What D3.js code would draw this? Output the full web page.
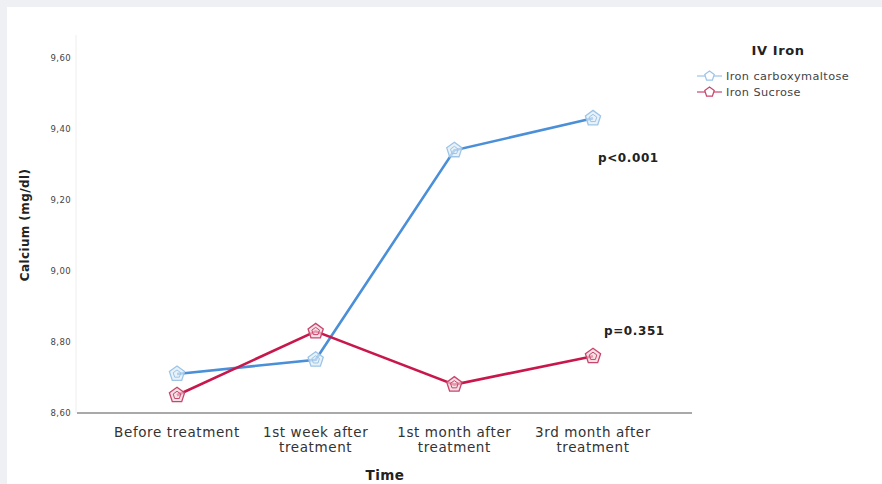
<!DOCTYPE html>
<html>
<head>
<meta charset="utf-8">
<script src="https://cdn.jsdelivr.net/npm/d3@7"></script>
<style>
  body { margin: 0; background: #eef0f3; }
  svg { display: block; font-family: "DejaVu Sans", Verdana, sans-serif; }
</style>
</head>
<body>
<div id="chart"></div>
<script>
// Data
const categories = [
  ["Before treatment"],
  ["1st week after", "treatment"],
  ["1st month after", "treatment"],
  ["3rd month after", "treatment"]
];
const carboxymaltose = [8.71, 8.75, 9.34, 9.43];
const sucrose = [8.65, 8.83, 8.68, 8.76];
const yTicks = [8.6, 8.8, 9.0, 9.2, 9.4, 9.6];
const seriesNames = ["Iron carboxymaltose", "Iron Sucrose"];
const pLabels = ["p<0.001", "p=0.351"];

const width = 882, height = 484;
const svg = d3.select("#chart").append("svg")
  .attr("width", width)
  .attr("height", height);

// white panel
svg.append("rect")
  .attr("x", 7).attr("y", 7)
  .attr("width", width - 7).attr("height", height - 7)
  .attr("fill", "#fff");

// clipped title remnant (the reference only shows its bottom edge)
svg.append("text")
  .attr("x", 461).attr("y", 2)
  .attr("text-anchor", "middle")
  .attr("font-size", 16).attr("font-weight", "bold")
  .attr("fill", "#444")
  .text("g");

// gray frame over the top and left edges
svg.append("rect").attr("x", 0).attr("y", 0).attr("width", width).attr("height", 7).attr("fill", "#eef0f3");
svg.append("rect").attr("x", 0).attr("y", 0).attr("width", 7).attr("height", height).attr("fill", "#eef0f3");

const plotLeft = 77, plotRight = 692;
const xScale = d3.scalePoint()
  .domain(categories.map(c => c.join(" ")))
  .range([177, 593]);
const yScale = d3.scaleLinear().domain([8.6, 9.6]).range([413, 58]);

// y axis line (faint)
svg.append("line")
  .attr("x1", 76).attr("x2", 76)
  .attr("y1", 35).attr("y2", 413)
  .attr("stroke", "#eeeeee").attr("stroke-width", 1);

// y tick labels
const yAxis = d3.axisLeft(yScale)
  .tickValues(yTicks)
  .tickSize(0)
  .tickPadding(5)
  .tickFormat(d => d3.format(".2f")(d).replace(".", ","));
const yG = svg.append("g")
  .attr("transform", `translate(${plotLeft - 1}, 0)`)
  .call(yAxis);
yG.select(".domain").remove();
yG.selectAll("text")
  .attr("font-size", 8.5)
  .attr("font-family", "'DejaVu Sans', Verdana, sans-serif")
  .attr("letter-spacing", 0.4)
  .attr("fill", "#444");

// x axis line
svg.append("line")
  .attr("x1", plotLeft).attr("x2", plotRight)
  .attr("y1", 413).attr("y2", 413)
  .attr("stroke", "#555").attr("stroke-width", 1.2);

// x category labels
categories.forEach(c => {
  const t = svg.append("text")
    .attr("x", xScale(c.join(" ")))
    .attr("y", 437)
    .attr("text-anchor", "middle")
    .attr("font-size", 13.5)
    .attr("letter-spacing", 0.6)
    .attr("fill", "#333");
  c.forEach((line, i) => {
    t.append("tspan")
      .attr("x", xScale(c.join(" ")))
      .attr("dy", i === 0 ? 0 : 15)
      .text(line);
  });
});

// axis titles
svg.append("text")
  .attr("x", 385).attr("y", 480)
  .attr("text-anchor", "middle")
  .attr("font-size", 13.5).attr("font-weight", "bold")
  .attr("letter-spacing", 0.5)
  .attr("fill", "#222")
  .text("Time");

svg.append("text")
  .attr("transform", "translate(29, 225) rotate(-90)")
  .attr("text-anchor", "middle")
  .attr("font-size", 12).attr("font-weight", "bold")
  .attr("letter-spacing", 0.4)
  .attr("fill", "#222")
  .text("Calcium (mg/dl)");

// series
const series = [
  { name: seriesNames[0], values: carboxymaltose, line: "#4a8fd8", marker: "#9cc5e8", fill: "#dfecf7" },
  { name: seriesNames[1], values: sucrose, line: "#c8174b", marker: "#c9456d", fill: "#f1d3dc" }
];

const line = d3.line()
  .x((d, i) => xScale(categories[i].join(" ")))
  .y(d => yScale(d));

// pentagon symbol path centred on 0,0
function pentagon(r) {
  const pts = d3.range(5).map(k => {
    const a = -Math.PI / 2 + k * 2 * Math.PI / 5;
    return [r * Math.cos(a), r * Math.sin(a)];
  });
  return "M" + pts.map(p => p.join(",")).join("L") + "Z";
}

series.forEach(s => {
  svg.append("path")
    .datum(s.values)
    .attr("fill", "none")
    .attr("stroke", s.line)
    .attr("stroke-width", 2.6)
    .attr("d", line);
});

series.forEach(s => {
  svg.selectAll(null)
    .data(s.values)
    .enter()
    .append("path")
    .attr("transform", (d, i) => `translate(${xScale(categories[i].join(" "))}, ${yScale(d)})`)
    .attr("d", pentagon(8))
    .attr("fill", s.fill)
    .attr("fill-opacity", 0.7)
    .attr("stroke", s.marker)
    .attr("stroke-width", 1.3);
  svg.selectAll(null)
    .data(s.values)
    .enter()
    .append("path")
    .attr("transform", (d, i) => `translate(${xScale(categories[i].join(" "))}, ${yScale(d)})`)
    .attr("d", pentagon(4))
    .attr("fill", "none")
    .attr("stroke", s.marker)
    .attr("stroke-width", 1);
});

// p-value labels
svg.append("text")
  .attr("x", 598).attr("y", 162)
  .attr("font-size", 12).attr("font-weight", "bold")
  .attr("letter-spacing", 0.6)
  .attr("fill", "#222")
  .text(pLabels[0]);
svg.append("text")
  .attr("x", 604).attr("y", 335)
  .attr("font-size", 12).attr("font-weight", "bold")
  .attr("letter-spacing", 0.6)
  .attr("fill", "#222")
  .text(pLabels[1]);

// legend
svg.append("text")
  .attr("x", 778).attr("y", 55)
  .attr("text-anchor", "middle")
  .attr("font-size", 13).attr("font-weight", "bold")
  .attr("letter-spacing", 0.6)
  .attr("fill", "#222")
  .text("IV Iron");

series.forEach((s, i) => {
  const y = 76 + i * 16;
  svg.append("line")
    .attr("x1", 697).attr("x2", 722)
    .attr("y1", y).attr("y2", y)
    .attr("stroke", s.marker).attr("stroke-width", 1.2);
  svg.append("path")
    .attr("transform", `translate(709.5, ${y})`)
    .attr("d", pentagon(5))
    .attr("fill", "#fff")
    .attr("stroke", s.marker)
    .attr("stroke-width", 1.2);
  svg.append("text")
    .attr("x", 726).attr("y", y + 4)
    .attr("font-size", 11.3)
    .attr("letter-spacing", 0.4)
    .attr("fill", "#444")
    .text(s.name);
});
</script>
</body>
</html>
